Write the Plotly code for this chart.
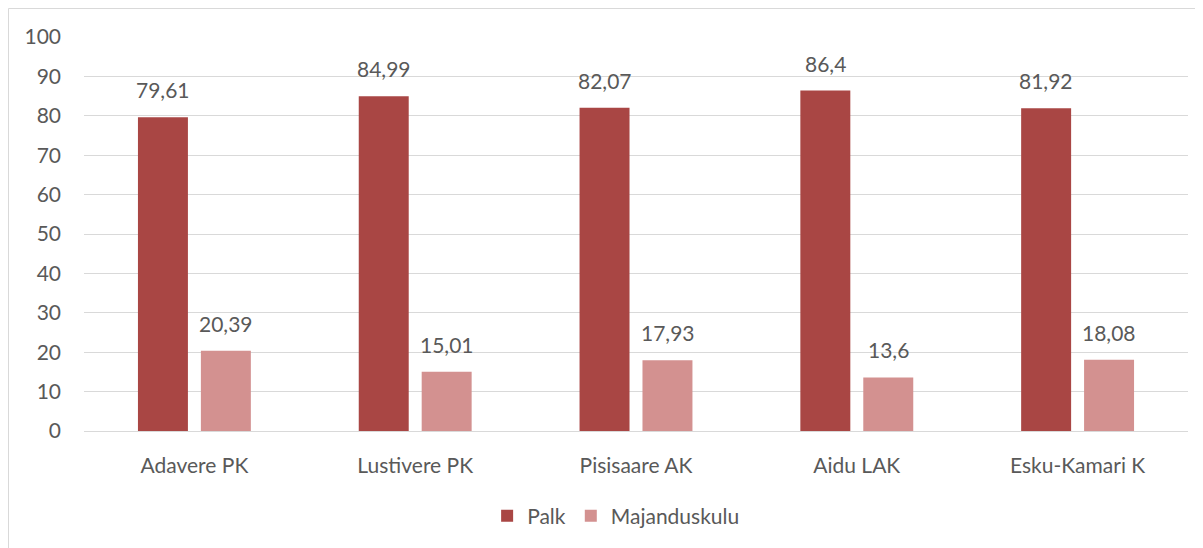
import plotly.graph_objects as go

categories = ["Adavere PK", "Lustivere PK", "Pisisaare AK", "Aidu LAK", "Esku-Kamari K"]
palk = [79.61, 84.99, 82.07, 86.4, 81.92]
majanduskulu = [20.39, 15.01, 17.93, 13.6, 18.08]
series_names = ["Palk", "Majanduskulu"]
y_ticks = [0, 10, 20, 30, 40, 50, 60, 70, 80, 90, 100]

colors = ["#A94644", "#D39190"]
text_color = "#595959"
font_family = "Lato, 'Liberation Sans', sans-serif"
fsize = 21


def fmt(v):
    # Estonian decimal comma
    return ("%g" % v).replace(".", ",")


fig = go.Figure()
for name, vals, col in zip(series_names, [palk, majanduskulu], colors):
    fig.add_trace(go.Bar(
        x=categories, y=vals, name=name,
        marker=dict(color=col, line=dict(width=0)),
    ))

# data labels above the bars
for k, vals in enumerate([palk, majanduskulu]):
    shift = -31.5 if k == 0 else 31.5
    for c, v in zip(categories, vals):
        fig.add_annotation(
            x=c, y=v, text=fmt(v), showarrow=False,
            xshift=shift, yshift=13, yanchor="bottom",
            font=dict(size=fsize, color=text_color, family=font_family),
        )

# page body has an 8px margin, so the figure is a bit smaller than the window
fig.update_layout(
    width=1195, height=540,
    margin=dict(l=76, r=15, t=29, b=117),
    paper_bgcolor="white", plot_bgcolor="white",
    barmode="group", bargap=0.43, bargroupgap=0.206,
    font=dict(family=font_family, size=fsize, color=text_color),
    showlegend=True,
    legend=dict(orientation="h", x=0.482, xanchor="center", y=-0.2157, yanchor="middle",
                font=dict(size=fsize, color=text_color), itemwidth=30),
    shapes=[dict(type="rect", xref="paper", yref="paper",
                 x0=-0.0684, x1=1.1, y0=-0.5, y1=1.0723,
                 line=dict(color="#D9D9D9", width=1), layer="below")],
)
fig.update_yaxes(range=[0, 100], tickvals=y_ticks, showgrid=True, gridcolor="#D9D9D9",
                 gridwidth=1, zeroline=False, showline=False, ticks="",
                 ticklabelstandoff=22, tickfont=dict(size=fsize, color=text_color))
fig.update_xaxes(showline=True, linecolor="#D9D9D9", linewidth=1, ticks="",
                 ticklabelstandoff=16, tickfont=dict(size=fsize, color=text_color))

fig.write_html("out.html")
